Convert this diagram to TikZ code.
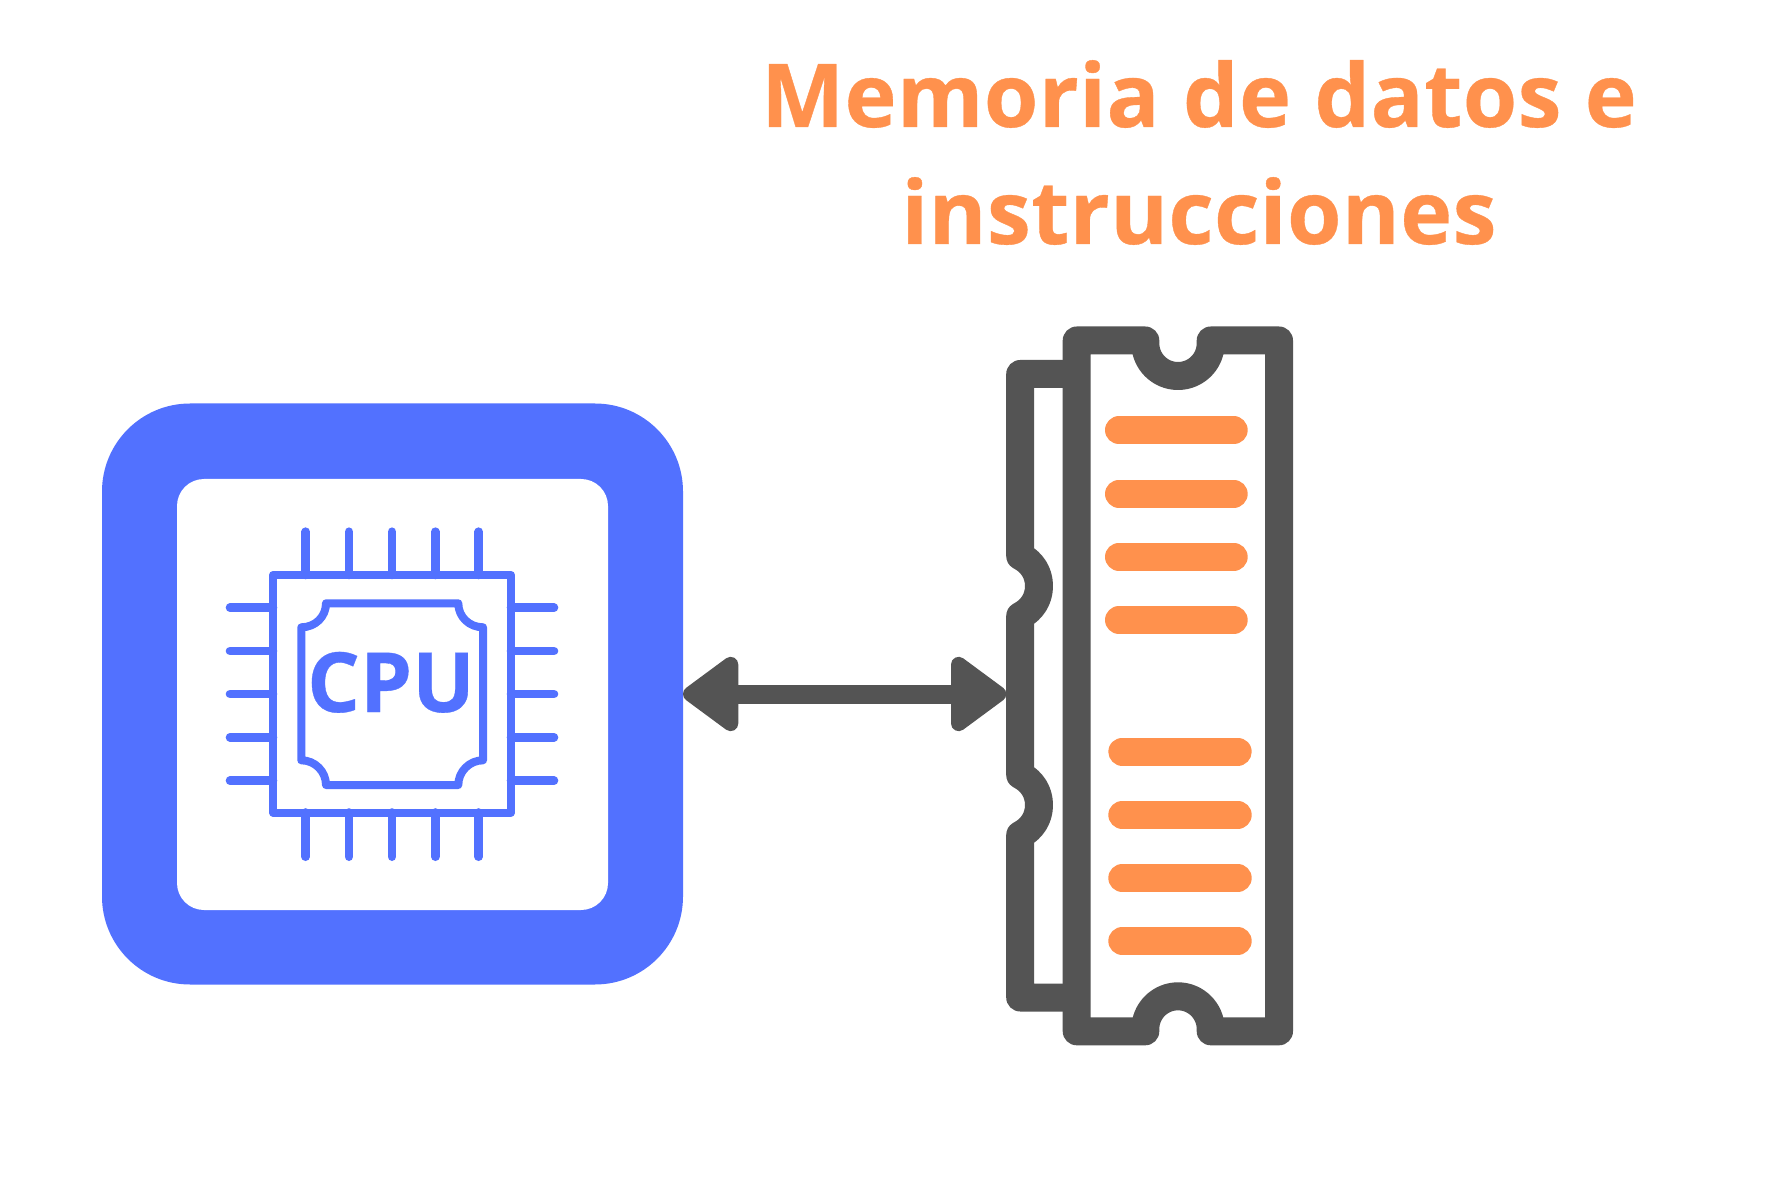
\documentclass[tikz,border=0pt]{standalone}
\usepackage{fontspec}
\usetikzlibrary{arrows.meta}
\newfontfamily\titlefont[LetterSpace=0.5,FakeBold=0.4,UprightFont={* Bold}]{Open Sans}
\newfontfamily\cpufont[FakeBold=0.4,UprightFont={* Bold}]{Open Sans}
\definecolor{cpublue}{HTML}{5271FF}
\definecolor{ramgrey}{HTML}{545454}
\definecolor{memorange}{HTML}{FF914D}
\tikzset{
  pinline/.style={draw=cpublue,line width=4.3pt,line cap=round},
  chipline/.style={draw=cpublue,line width=4pt,line join=round},
  ramline/.style={draw=ramgrey,line width=14pt,line join=round},
  barline/.style={draw=memorange,line width=14pt,line cap=round},
  bus/.style={draw=ramgrey,line width=9.5pt,
    {Triangle[round,length=30.5pt,width=42.5pt,line width=9pt,fill=ramgrey]}-{Triangle[round,length=30.5pt,width=42.5pt,line width=9pt,fill=ramgrey]}}
}
\begin{document}
\begin{tikzpicture}[x=0.5pt,y=-0.5pt]
\useasboundingbox (0,0) rectangle (1772,1181);
\node[fill=white,draw=none,minimum width=886pt,minimum height=590.5pt,inner sep=0pt,outer sep=0pt] (page) at (886,590.5) {};
% title
\node[text=memorange,align=center,inner sep=0pt,font=\titlefont\fontsize{44}{58.5}\selectfont] (title) at (1199,152.5) {Memoria de datos e\\instrucciones};
% CPU box
\node[fill=cpublue,rounded corners=44pt,minimum size=290.5pt,inner sep=0pt,outer sep=0pt] (cpu) at (392.5,694) {};
\node[fill=white,rounded corners=13.5pt,minimum size=215.5pt,inner sep=0pt,outer sep=0pt] (cpuin) at (392.5,694.5) {};
% pins
\foreach \p in {305.7,349,392,435.3,478.7}{
  \draw[pinline] (\p,531.7) -- (\p,575);
  \draw[pinline] (\p,812.5) -- (\p,856.7);
}
\foreach \p in {607.7,651,694,737.3,780.7}{
  \draw[pinline] (230,\p) -- (273,\p);
  \draw[pinline] (511,\p) -- (554,\p);
}
\draw[chipline] (273,575) rectangle (511,812.5);
% inner die outline with concave corners
\draw[chipline] (326,603.3) -- (458.3,603.3)
  .. controls (458.3,617) and (469.5,627.3) .. (483,627.3)
  -- (483,760.3)
  .. controls (469.5,760.3) and (458.3,771.5) .. (458.3,785)
  -- (326,785)
  .. controls (326,771.5) and (315,760.3) .. (301.3,760.3)
  -- (301.3,627.3)
  .. controls (315,627.3) and (326,617) .. (326,603.3) -- cycle;
\node[text=cpublue,inner sep=0pt,font=\cpufont\fontsize{41.5}{48}\selectfont,anchor=base] (cputext) at (391,712) {CPU};
% RAM
\node[minimum width=143.5pt,minimum height=359.3pt,inner sep=0pt,outer sep=0pt] (ram) at (1149.8,686) {};
\draw[ramline] (1076.7,374) -- (1020.2,374) -- (1020.2,556)
  .. controls (1032,562) and (1039,573) .. (1039,586)
  .. controls (1039,599) and (1032,610) .. (1020.2,616)
  -- (1020.2,775)
  .. controls (1032,781) and (1039,792) .. (1039,805)
  .. controls (1039,818) and (1032,829) .. (1020.2,835)
  -- (1020.2,997.5) -- (1076.7,997.5);
\draw[ramline] (1076.7,340.5) -- (1145.3,340.5) -- (1145.3,343.3)
  .. controls (1145.3,361.4) and (1160,376) .. (1178,376)
  .. controls (1196,376) and (1210.7,361.4) .. (1210.7,343.3)
  -- (1210.7,340.5) -- (1279,340.5) -- (1279,1031.3) -- (1210.7,1031.3) -- (1210.7,1029)
  .. controls (1210.7,1011) and (1196,996.3) .. (1178,996.3)
  .. controls (1160,996.3) and (1145.3,1011) .. (1145.3,1029)
  -- (1145.3,1031.3) -- (1076.7,1031.3) -- cycle;
% bars
\foreach \p in {430.3,493.7,556.7,620}{
  \draw[barline] (1119,\p) -- (1233.7,\p);
}
\foreach \p in {751.5,814.8,878,941}{
  \draw[barline] (1122.3,\p) -- (1237.7,\p);
}
% bus
\draw[bus] (cpu.east) -- (cpu.east -| ram.west);
\end{tikzpicture}
\end{document}
